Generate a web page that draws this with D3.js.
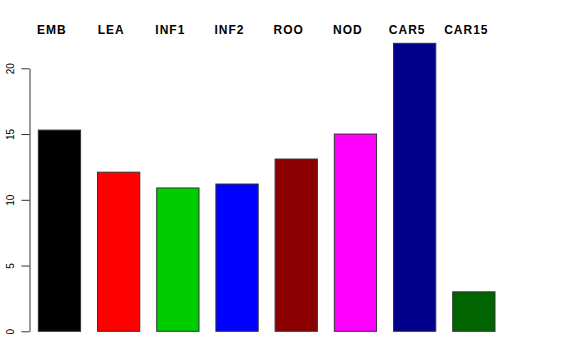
<!DOCTYPE html>
<html>
<head>
<meta charset="utf-8">
<script src="https://cdn.jsdelivr.net/npm/d3@7"></script>
<style>
  html, body { margin: 0; padding: 0; background: #fff; }
  svg { display: block; font-family: "Liberation Sans", Arial, sans-serif; }
</style>
</head>
<body>
<svg id="chart"></svg>
<script>
const categories = ["EMB", "LEA", "INF1", "INF2", "ROO", "NOD", "CAR5", "CAR15"];
const values = [15.3, 12.1, 10.9, 11.2, 13.1, 15.0, 21.9, 3.0];
const barColors = ["#000000", "#FF0000", "#00CD00", "#0000FF", "#8B0000", "#FF00FF", "#00008B", "#006400"];
const yTicks = [0, 5, 10, 15, 20];

const width = 576, height = 360;
const svg = d3.select("#chart").attr("width", width).attr("height", height);

// R barplot style: space = 0.4
const x = d3.scaleBand()
  .domain(categories)
  .range([29.85, 503.45])
  .paddingInner(0.4 / 1.4)
  .paddingOuter(0.2 / 1.4);

const y = d3.scaleLinear().domain([0, 20]).range([331.3, 68.3]);

svg.append("g")
  .selectAll("rect")
  .data(categories)
  .enter()
  .append("rect")
  .attr("x", d => x(d))
  .attr("y", (d, i) => y(values[i]))
  .attr("width", x.bandwidth())
  .attr("height", (d, i) => y(0) - y(values[i]))
  .attr("fill", (d, i) => barColors[i])
  .attr("stroke", "#333")
  .attr("stroke-width", 1);

// y axis with rotated labels
const yAxis = svg.append("g")
  .attr("transform", "translate(29.5,0)")
  .call(d3.axisLeft(y).tickValues(yTicks).tickSize(8).tickSizeOuter(0));

yAxis.select(".domain").attr("stroke", "#333");
yAxis.selectAll(".tick line").attr("stroke", "#333");
yAxis.selectAll(".tick text")
  .attr("x", null).attr("dy", null)
  .attr("transform", "translate(-15.5,0) rotate(-90)")
  .attr("text-anchor", "middle")
  .attr("fill", "#000")
  .style("font-size", "10px")
  .style("font-family", "Liberation Sans, Arial, sans-serif");

// category labels above the plot
svg.append("g")
  .selectAll("text")
  .data(categories)
  .enter()
  .append("text")
  .attr("x", d => x(d) + x.bandwidth() / 2 - 7.5)
  .attr("y", 34)
  .attr("text-anchor", "middle")
  .style("font-size", "12px")
  .style("font-weight", "bold")
  .style("letter-spacing", "1px")
  .text(d => d);
</script>
</body>
</html>
